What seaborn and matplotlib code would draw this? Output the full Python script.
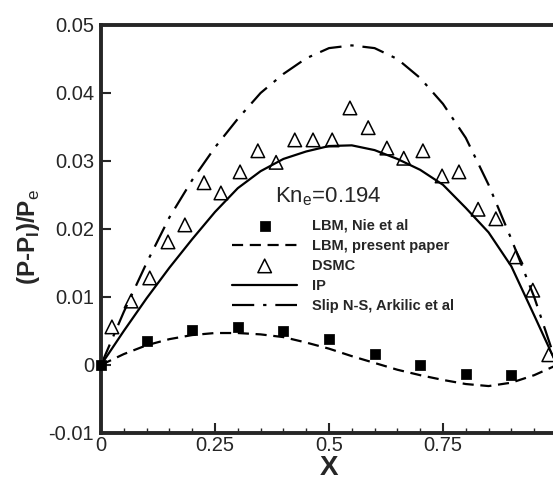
import numpy as np
import pandas as pd
import matplotlib
matplotlib.use("Agg")
import matplotlib.pyplot as plt
import seaborn as sns
from matplotlib.ticker import MultipleLocator

# curves
x_curve = [0.0, 0.05, 0.1, 0.15, 0.2, 0.25, 0.3, 0.35, 0.4, 0.45, 0.5,
           0.55, 0.6, 0.65, 0.7, 0.75, 0.8, 0.85, 0.9, 0.95, 1.0]
lbm_present = [0.0, 0.0016, 0.0029, 0.0038, 0.0044, 0.0047, 0.0047, 0.0045, 0.0041, 0.0033, 0.0024,
               0.0013, 0.0003, -0.0007, -0.0015, -0.0022, -0.0028, -0.0031, -0.0026, -0.0015, 0.0]
ip = [0.0, 0.0050, 0.0098, 0.0143, 0.0185, 0.0225, 0.0260, 0.0285, 0.0303, 0.0314, 0.0322,
      0.0323, 0.0316, 0.0303, 0.0287, 0.0265, 0.0231, 0.0195, 0.0145, 0.0073, 0.0]
slip_ns = [0.0, 0.0078, 0.0150, 0.0217, 0.0272, 0.0320, 0.0362, 0.0400, 0.0428, 0.0451, 0.0466,
           0.0470, 0.0466, 0.0450, 0.0422, 0.0384, 0.0334, 0.0265, 0.0185, 0.0100, 0.0]

# LBM, Nie et al (squares)
x_nie = [0.0, 0.1, 0.2, 0.3, 0.4, 0.5, 0.6, 0.7, 0.8, 0.9]
y_nie = [0.0, 0.0036, 0.0051, 0.0056, 0.0050, 0.0038, 0.0016, 0.0000, -0.0013, -0.0015]

# DSMC (triangles)
x_dsmc = [0.024, 0.066, 0.107, 0.147, 0.184, 0.226, 0.263, 0.305, 0.344, 0.384, 0.425, 0.465, 0.507,
          0.546, 0.586, 0.627, 0.664, 0.706, 0.748, 0.785, 0.827, 0.866, 0.910, 0.947, 0.982]
y_dsmc = [0.0056, 0.0094, 0.0128, 0.0181, 0.0206, 0.0268, 0.0253, 0.0284, 0.0315, 0.0298, 0.0331, 0.0331, 0.0331,
          0.0378, 0.0349, 0.0319, 0.0304, 0.0315, 0.0278, 0.0284, 0.0229, 0.0215, 0.0159, 0.0110, 0.0015]

sns.set_style("ticks")
plt.rcParams["font.family"] = ["Liberation Sans", "DejaVu Sans"]
plt.rcParams["mathtext.fontset"] = "custom"
plt.rcParams["mathtext.rm"] = "Liberation Sans"
plt.rcParams["mathtext.bf"] = "Liberation Sans:bold"

fig = plt.figure(figsize=(5.53, 4.95), dpi=100)
ax = fig.add_axes([0.1826, 0.1253, 0.8246, 0.8242])

sns.scatterplot(x=x_nie, y=y_nie, marker="s", s=45, color="black", edgecolor="black",
                label="LBM, Nie et al", ax=ax, clip_on=False, zorder=5)
sns.lineplot(x=x_curve, y=lbm_present, color="black", lw=1.6, linestyle=(0, (5, 3)),
             label="LBM, present paper", ax=ax)
sns.scatterplot(x=x_dsmc, y=y_dsmc, marker="^", s=95, facecolors="none", edgecolor="black",
                linewidth=1.1, label="DSMC", ax=ax, clip_on=False, zorder=5)
sns.lineplot(x=x_curve, y=ip, color="black", lw=1.6, label="IP", ax=ax)
sns.lineplot(x=x_curve, y=slip_ns, color="black", lw=1.6, linestyle=(0, (10, 4, 1.5, 4)),
             label="Slip N-S, Arkilic et al", ax=ax)

ax.set_xlim(0, 1)
ax.set_ylim(-0.01, 0.05)
ax.set_xticks([0, 0.25, 0.5, 0.75])
ax.set_xticklabels(["0", "0.25", "0.5", "0.75"])
ax.set_yticks([-0.01, 0, 0.01, 0.02, 0.03, 0.04, 0.05])
ax.set_yticklabels(["-0.01", "0", "0.01", "0.02", "0.03", "0.04", "0.05"])
ax.xaxis.set_minor_locator(MultipleLocator(0.05))
ax.tick_params(axis="both", which="major", direction="in", length=7, width=1.5,
               labelsize=14.5)
ax.tick_params(axis="x", which="major", pad=2)
ax.tick_params(axis="y", which="major", pad=5)
ax.tick_params(axis="x", which="minor", direction="in", length=3.5, width=1)
for side in ["left", "bottom", "top", "right"]:
    ax.spines[side].set_linewidth(2.8)

ax.set_xlabel("X", fontsize=20, fontweight="bold", labelpad=0)
ax.set_ylabel(r"(P-P$_{\mathbf{l}}$)/P$_{\rm e}$", fontsize=17.5, fontweight="bold")
ax.yaxis.set_label_coords(-0.129, 0.48)

ax.text(0.382, 0.566, r"Kn$_{\rm e}$=0.194", transform=ax.transAxes, fontsize=16, va="baseline")

handles, labels = ax.get_legend_handles_labels()
ax.legend(handles, labels, loc="upper left", bbox_to_anchor=(0.287, 0.525), frameon=False,
          borderpad=0, borderaxespad=0, handlelength=4.5, handletextpad=1.0,
          labelspacing=0.41, prop={"weight": "bold", "size": 10.5})

fig.savefig("out.png", dpi=100)
